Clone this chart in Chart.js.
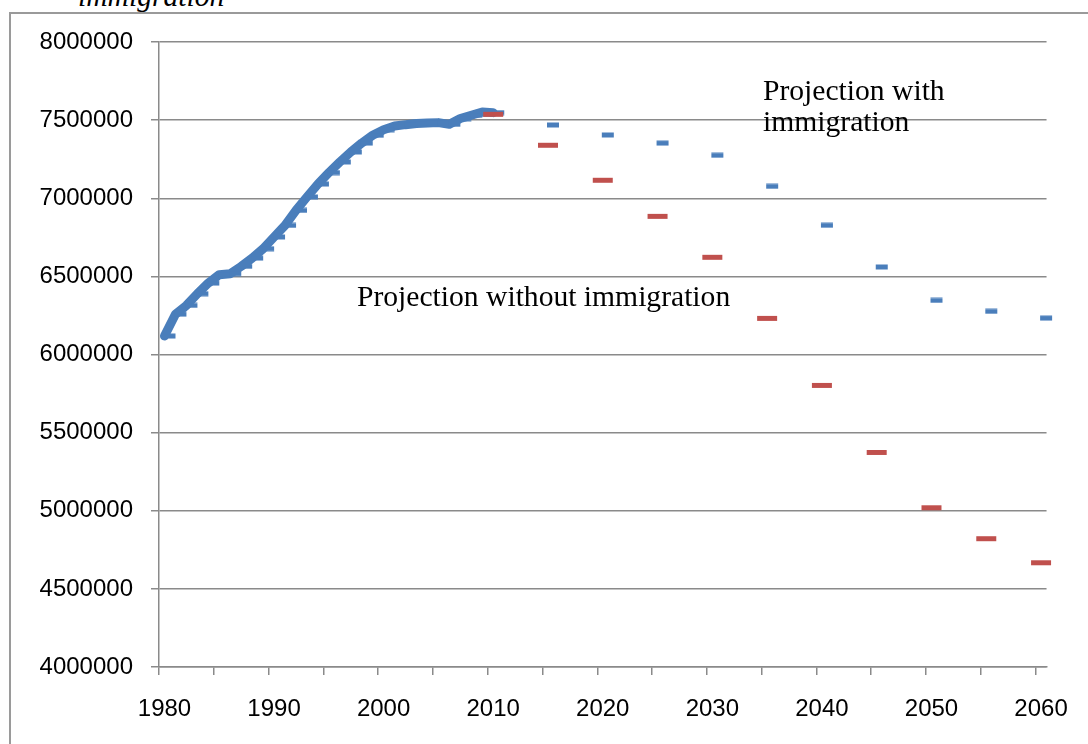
<!DOCTYPE html>
<html lang="en">
<head>
  <meta charset="UTF-8">
  <title>Population projection</title>
  <script src="https://cdn.jsdelivr.net/npm/chart.js"></script>
  <style>
    body { margin: 0; background: #fff; width: 1088px; height: 744px; overflow: hidden; position: relative; }
    .frame { position: absolute; left: 9px; top: 12px; width: 1200px; height: 900px; border: 2px solid #9a9a9a; }
    canvas { position: absolute; left: 0; top: 0; }
    .note { position: absolute; font-family: 'Liberation Serif', serif; font-size: 29.6px; line-height: 31px; color: #000; white-space: nowrap; }
  </style>
</head>
<body>
  <div class="frame"></div>
  <div class="note" style="left:78px; top:-19px; font-style:italic;">immigration</div>
  <canvas id="chart" width="1088" height="744"></canvas>
  <div class="note" style="left:763px; top:75px;">Projection with<br>immigration</div>
  <div class="note" style="left:357px; top:281px;">Projection without immigration</div>

  <script>
    // Years shown on the category axis
    const years = [];
    for (let y = 1980; y <= 2060; y++) years.push(y);

    // Recorded population 1980-2010
    const histYears = [1980, 1981, 1982, 1983, 1984, 1985, 1986, 1987, 1988, 1989,
                       1990, 1991, 1992, 1993, 1994, 1995, 1996, 1997, 1998, 1999,
                       2000, 2001, 2002, 2003, 2004, 2005, 2006, 2007, 2008, 2009, 2010];
    const histValues = [6118000, 6258000, 6314000, 6389000, 6457000, 6511000, 6517000, 6564000, 6617000, 6677000,
                        6752000, 6826000, 6922000, 7008000, 7091000, 7164000, 7232000, 7296000, 7353000, 7403000,
                        7439000, 7462000, 7471000, 7478000, 7482000, 7484000, 7473000, 7510000, 7531000, 7552000, 7548000];

    // Projection with immigration
    const withYears = [2015, 2020, 2025, 2030, 2035, 2040, 2045, 2050, 2055, 2060];
    const withValues = [7469000, 7405000, 7353000, 7275000, 7076000, 6827000, 6560000, 6346000, 6276000, 6233000];

    // Projection without immigration
    const withoutYears = [2010, 2015, 2020, 2025, 2030, 2035, 2040, 2045, 2050, 2055, 2060];
    const withoutValues = [7537000, 7339000, 7115000, 6884000, 6622000, 6231000, 5802000, 5373000, 5019000, 4821000, 4667000];

    const blue = '#4a7ebb';
    const red = '#c0504d';
    const gridGray = '#8a8a8a';

    const pairs = (xs, ys) => xs.map((x, i) => ({ x: x, y: ys[i] }));

    // short dash marker sitting right of the point, like Excel's dash marker
    const dash = document.createElement('canvas');
    dash.width = 26;
    dash.height = 6;
    const dctx = dash.getContext('2d');
    dctx.fillStyle = blue;
    dctx.fillRect(12, 0.5, 12, 5);

    new Chart(document.getElementById('chart'), {
      type: 'line',
      data: {
        labels: years,
        datasets: [
          {
            label: 'Population',
            data: pairs(histYears, histValues),
            borderColor: blue,
            borderWidth: 9,
            borderCapStyle: 'round',
            borderJoinStyle: 'round',
            pointRadius: 0,
            tension: 0,
            order: 2
          },
          {
            label: 'Projection with immigration',
            data: pairs(histYears, histValues).concat(pairs(withYears, withValues)),
            showLine: false,
            pointStyle: dash,
            pointRadius: 6,
            clip: false,
            order: 1
          },
          {
            label: 'Projection without immigration',
            data: pairs(withoutYears, withoutValues),
            showLine: false,
            pointStyle: 'line',
            pointRadius: 10,
            pointBorderWidth: 5,
            pointBorderColor: red,
            borderColor: red,
            clip: false,
            order: 0
          }
        ]
      },
      options: {
        responsive: false,
        animation: false,
        layout: { padding: { top: 42, right: 39, left: 0, bottom: 0 } },
        plugins: { legend: { display: false }, tooltip: { enabled: false } },
        scales: {
          x: {
            type: 'category',
            offset: true,
            afterFit: s => { s.height = 77; },
            grid: {
              offset: true,
              drawOnChartArea: false,
              tickLength: 8,
              lineWidth: 1.5,
              tickColor: ctx => (ctx.index % 5 === 0 ? gridGray : 'rgba(0,0,0,0)')
            },
            border: { color: gridGray, width: 1.5 },
            ticks: {
              autoSkip: false,
              maxRotation: 0,
              padding: 20,
              color: '#000',
              font: { family: 'Liberation Sans', size: 24 },
              callback: (v, i) => (years[i] % 10 === 0 ? String(years[i]) : '')
            }
          },
          y: {
            min: 4000000,
            max: 8000000,
            afterFit: s => { s.width = 159; },
            grid: { color: gridGray, lineWidth: 1.5, tickLength: 8 },
            border: { color: gridGray, width: 1.5 },
            ticks: {
              stepSize: 500000,
              padding: 18,
              color: '#000',
              font: { family: 'Liberation Sans', size: 24 },
              callback: v => String(v)
            }
          }
        }
      }
    });
  </script>
</body>
</html>
